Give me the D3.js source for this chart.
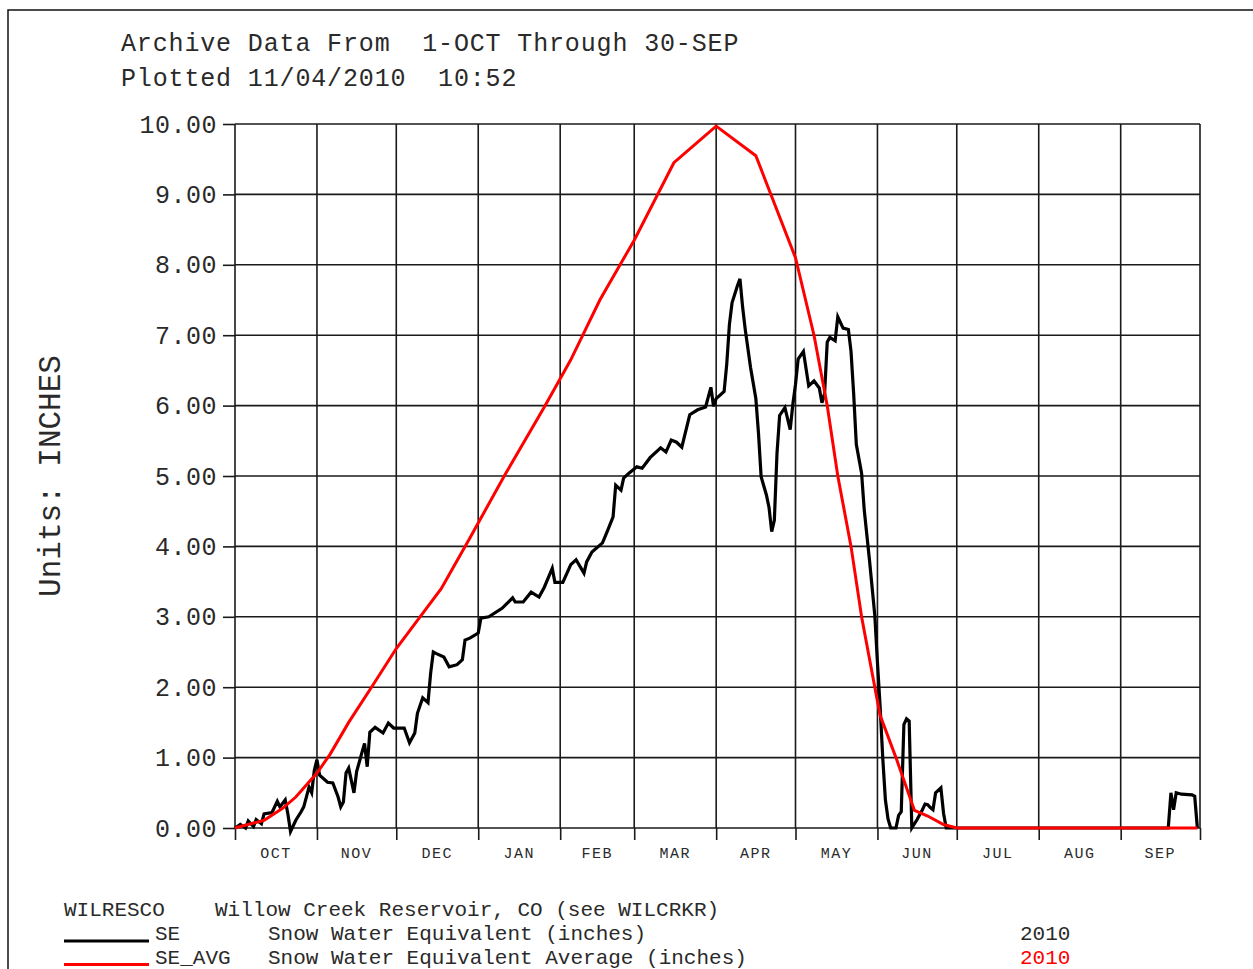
<!DOCTYPE html>
<html>
<head>
<meta charset="utf-8">
<script src="https://cdn.jsdelivr.net/npm/d3@7"></script>
<style>
  body { margin: 0; background: #fff; }
  svg { display: block; }
  text { font-family: "Liberation Mono", "Courier New", monospace; fill: #2a2a2a; white-space: pre; }
</style>
</head>
<body>
<svg id="chart" width="1253" height="969"></svg>
<script>
// water year 2010: days counted from 1-OCT-2009
var seDays = [0, 2, 4, 5, 7, 8, 10, 11, 14, 16, 17, 19, 20, 21, 23, 25, 26, 28, 29, 30,
  31, 32, 35, 37, 39, 40, 41, 42, 43, 45, 46, 48, 49, 50, 51, 53, 56, 58, 60, 64,
  66, 68, 69, 71, 73, 74, 75, 76, 79, 81, 84, 86, 87, 89, 92, 93, 96, 101, 105, 106,
  109, 112, 115, 117, 120, 121, 124, 127, 129, 132, 133, 135, 139, 141, 143, 144, 146, 147, 149, 152,
  154, 157, 161, 163, 165, 167, 169, 172, 175, 178, 180, 181, 182, 185, 186, 187, 188, 190, 191, 192,
  193, 195, 197, 198, 199, 201, 202, 203, 204, 205, 206, 208, 210, 211, 212, 213, 215, 217, 219, 221,
  222, 223, 224, 225, 227, 228, 230, 232, 233, 234, 235, 237, 238, 240, 242, 243, 244, 245, 246, 247,
  248, 250, 251, 252, 253, 254, 255, 256, 258, 260, 261, 262, 263, 264, 265, 267, 268, 269, 353, 354,
  355, 356, 358, 362, 363, 364];
var seValues = [0.0, 0.05, 0.0, 0.1, 0.02, 0.12, 0.06, 0.2, 0.22, 0.38, 0.3, 0.4, 0.2, -0.05, 0.11, 0.23, 0.3, 0.58, 0.5, 0.82,
  0.97, 0.75, 0.65, 0.64, 0.44, 0.3, 0.37, 0.78, 0.85, 0.5, 0.8, 1.07, 1.2, 0.87, 1.36, 1.43, 1.35, 1.49, 1.42, 1.42,
  1.21, 1.35, 1.63, 1.85, 1.78, 2.2, 2.5, 2.48, 2.43, 2.29, 2.32, 2.39, 2.67, 2.7, 2.77, 2.98, 3.0, 3.12, 3.27, 3.21,
  3.21, 3.35, 3.28, 3.42, 3.69, 3.49, 3.49, 3.74, 3.81, 3.62, 3.78, 3.92, 4.05, 4.23, 4.42, 4.87, 4.8, 4.97, 5.04, 5.13,
  5.11, 5.26, 5.4, 5.34, 5.51, 5.48, 5.41, 5.87, 5.94, 5.98, 6.26, 5.99, 6.1, 6.2, 6.59, 7.15, 7.46, 7.7, 7.8, 7.4,
  7.08, 6.54, 6.1, 5.61, 4.99, 4.73, 4.55, 4.21, 4.37, 5.32, 5.86, 5.97, 5.66, 6.02, 6.3, 6.66, 6.77, 6.28, 6.35, 6.25,
  6.04, 6.17, 6.9, 6.97, 6.92, 7.26, 7.1, 7.08, 6.77, 6.17, 5.45, 5.04, 4.52, 3.8, 3.02, 2.35, 1.73, 1.0, 0.4, 0.13,
  0.0, 0.0, 0.18, 0.23, 1.47, 1.55, 1.52, 0.0, 0.12, 0.26, 0.34, 0.33, 0.29, 0.26, 0.5, 0.57, 0.21, 0.0, 0.0, 0.5,
  0.26, 0.5, 0.48, 0.47, 0.45, 0.0];

var avgDays = [0, 11, 18, 23, 31, 36, 43, 52, 61, 69, 78, 89, 102, 117, 127, 138, 151, 166, 182, 197,
  212, 219, 224, 228, 233, 237, 242, 244, 250, 257, 262, 268, 273, 364];
var avgValues = [0.0, 0.11, 0.28, 0.44, 0.78, 1.05, 1.5, 2.02, 2.55, 2.95, 3.4, 4.13, 5.01, 5.98, 6.65, 7.5, 8.35, 9.45, 9.97, 9.55,
  8.1, 7.0, 6.0, 5.0, 4.0, 3.0, 2.0, 1.6, 1.0, 0.25, 0.17, 0.05, 0.0, 0.0];

var yTicks = [0, 1, 2, 3, 4, 5, 6, 7, 8, 9, 10];
var titleLines = ["Archive Data From  1-OCT Through 30-SEP", "Plotted 11/04/2010  10:52"];
var station = "WILRESCO";
var stationName = "Willow Creek Reservoir, CO (see WILCRKR)";
var legendCodes = ["SE", "SE_AVG"];
var legendNames = ["Snow Water Equivalent (inches)", "Snow Water Equivalent Average (inches)"];
var legendYears = ["2010", "2010"];
var legendColors = ["#000000", "#ff0000"];

var svg = d3.select("#chart");

var start = new Date(2009, 9, 1), end = new Date(2010, 9, 1);
var x = d3.scaleTime().domain([start, end]).range([235, 1200]);
var y = d3.scaleLinear().domain([0, 10]).range([828, 124]);

// frame around the page
svg.append("path")
    .attr("d", "M8,969V10H1253")
    .attr("fill", "none")
    .attr("stroke", "#111")
    .attr("stroke-width", 1.5);

// titles
svg.selectAll(".title").data(titleLines).enter().append("text")
    .attr("x", 121)
    .attr("y", function(d, i) { return 51 + i * 35; })
    .attr("xml:space", "preserve")
    .style("font-size", "25px")
    .style("letter-spacing", "0.85px")
    .text(function(d) { return d; });

var months = d3.timeMonth.range(start, d3.timeDay.offset(end, 1));

// grid
svg.append("g").selectAll("line").data(yTicks).enter().append("line")
    .attr("x1", 235).attr("x2", 1200)
    .attr("y1", function(d) { return y(d); })
    .attr("y2", function(d) { return y(d); })
    .attr("stroke", "#1a1a1a").attr("stroke-width", 1.6);

svg.append("g").selectAll("line").data(months).enter().append("line")
    .attr("x1", function(d) { return x(d); })
    .attr("x2", function(d) { return x(d); })
    .attr("y1", y(10)).attr("y2", y(0))
    .attr("stroke", "#1a1a1a").attr("stroke-width", 1.6);

// axes
var yAxis = svg.append("g")
    .attr("transform", "translate(235,0)")
    .call(d3.axisLeft(y).tickValues(yTicks).tickFormat(d3.format(".2f")).tickSize(12).tickPadding(6));
yAxis.select(".domain").remove();
yAxis.selectAll("line").attr("stroke", "#1a1a1a").attr("stroke-width", 1.6);
yAxis.selectAll("text")
    .style("font-family", "'Liberation Mono', monospace")
    .style("font-size", "25px")
    .style("letter-spacing", "0.5px")
    .attr("fill", "#333");

var xAxis = svg.append("g")
    .attr("transform", "translate(0,828)")
    .call(d3.axisBottom(x).tickValues(months).tickFormat("").tickSize(12));
xAxis.select(".domain").remove();
xAxis.selectAll("line").attr("stroke", "#1a1a1a").attr("stroke-width", 1.6);

var fmtMonth = d3.timeFormat("%b");
svg.append("g").selectAll("text").data(months.slice(0, 12)).enter().append("text")
    .attr("x", function(d) { return (x(d) + x(d3.timeMonth.offset(d, 1))) / 2; })
    .attr("y", 858)
    .attr("text-anchor", "middle")
    .style("font-size", "15px")
    .style("letter-spacing", "1.5px")
    .attr("fill", "#333")
    .text(function(d) { return fmtMonth(d).toUpperCase(); });

// y label
svg.append("text")
    .attr("transform", "translate(60,476) rotate(-90)")
    .attr("text-anchor", "middle")
    .style("font-size", "31px")
    .attr("fill", "#333")
    .text("Units: INCHES");

// series
var line = d3.line()
    .x(function(d) { return x(d3.timeDay.offset(start, d[0])); })
    .y(function(d) { return y(d[1]); });

var seData = seDays.map(function(d, i) { return [d, seValues[i]]; });
var avgData = avgDays.map(function(d, i) { return [d, avgValues[i]]; });

svg.append("path")
    .datum(seData)
    .attr("d", line)
    .attr("fill", "none")
    .attr("stroke", legendColors[0])
    .attr("stroke-width", 3.2)
    .attr("stroke-linejoin", "miter");

svg.append("path")
    .datum(avgData)
    .attr("d", line)
    .attr("fill", "none")
    .attr("stroke", legendColors[1])
    .attr("stroke-width", 3);

// legend
var legend = svg.append("g").style("font-size", "21px");
legend.append("text").attr("x", 64).attr("y", 916).text(station);
legend.append("text").attr("x", 215).attr("y", 916).text(stationName);

legendCodes.forEach(function(code, i) {
    var ly = 940 + i * 23.5;
    legend.append("line")
        .attr("x1", 64).attr("x2", 149)
        .attr("y1", ly + 1).attr("y2", ly + 1)
        .attr("stroke", legendColors[i]).attr("stroke-width", 3);
    legend.append("text").attr("x", 155).attr("y", ly).text(code);
    legend.append("text").attr("x", 268).attr("y", ly).text(legendNames[i]);
    legend.append("text").attr("x", 1020).attr("y", ly)
        .style("fill", i == 0 ? "#2a2a2a" : "#ff0000")
        .text(legendYears[i]);
});
</script>
</body>
</html>
